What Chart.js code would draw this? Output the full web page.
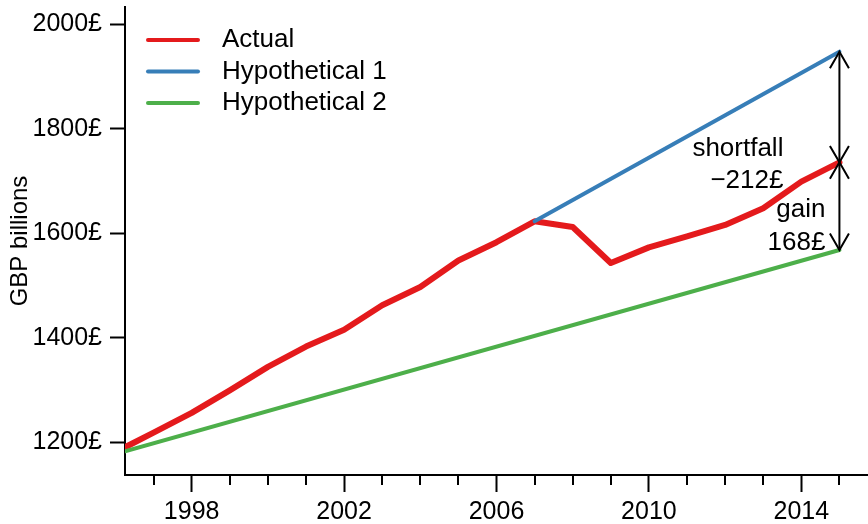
<!DOCTYPE html>
<html>
<head>
<meta charset="utf-8">
<script src="https://cdn.jsdelivr.net/npm/chart.js@4/dist/chart.umd.min.js"></script>
<style>
  html, body { margin: 0; padding: 0; background: #fff; }
</style>
</head>
<body>
<canvas id="gdpChart" width="868" height="524"></canvas>
<script>
// valores (GBP billions)
var years = [1996.25, 1997, 1998, 1999, 2000, 2001, 2002, 2003, 2004, 2005, 2006,
             2007, 2008, 2009, 2010, 2011, 2012, 2013, 2014, 2015];
var actual = [1190, 1218, 1256, 1299, 1344, 1383, 1415, 1462, 1497, 1548, 1583,
              1623, 1612, 1543, 1573, 1594, 1616, 1648, 1699, 1736];
var hyp1Years = [2007, 2015];
var hyp1 = [1623, 1948];
var hyp2Years = [1996.25, 2015];
var hyp2 = [1182, 1568];

var seriesNames = ['Actual', 'Hypothetical 1', 'Hypothetical 2'];
var seriesColors = ['#E41A1C', '#377EB8', '#4DAF4A'];

var xTicks = [1997, 1998, 1999, 2000, 2001, 2002, 2003, 2004, 2005, 2006,
              2007, 2008, 2009, 2010, 2011, 2012, 2013, 2014, 2015];
var xLabels = [1998, 2002, 2006, 2010, 2014];
var yTicks = [1200, 1400, 1600, 1800, 2000];

var family = "'Liberation Sans', Arial, Helvetica, sans-serif";
Chart.defaults.font.family = family;
Chart.defaults.color = '#000';

function toXY(xs, ys) {
    return xs.map(function (x, i) { return { x: x, y: ys[i] }; });
}

function money(v) {
    return (v < 0 ? '\u2212' : '') + Math.abs(v) + '\u00a3';
}

function arrowHead(ctx, x, y, dir) {
    var len = 19, ang = Math.PI / 6;
    ctx.beginPath();
    ctx.moveTo(x - len * Math.sin(ang), y - dir * len * Math.cos(ang));
    ctx.lineTo(x, y);
    ctx.lineTo(x + len * Math.sin(ang), y - dir * len * Math.cos(ang));
    ctx.stroke();
}

function doubleArrow(ctx, x, y1, y2) {
    ctx.beginPath();
    ctx.moveTo(x, y1);
    ctx.lineTo(x, y2);
    ctx.stroke();
    arrowHead(ctx, x, y1, -1);
    arrowHead(ctx, x, y2, 1);
}

var extras = {
    id: 'extras',
    afterDraw: function (chart) {
        var ctx = chart.ctx, area = chart.chartArea;
        var xs = chart.scales.x, ys = chart.scales.y;
        ctx.save();
        ctx.strokeStyle = '#000';
        ctx.lineWidth = 2;
        // ticks menores del eje x
        xTicks.forEach(function (v) {
            if (xLabels.indexOf(v) >= 0) return;
            var px = Math.round(xs.getPixelForValue(v));
            ctx.beginPath();
            ctx.moveTo(px, area.bottom);
            ctx.lineTo(px, area.bottom + 10);
            ctx.stroke();
        });

        // leyenda
        ctx.font = '26px ' + family;
        ctx.textAlign = 'left';
        ctx.textBaseline = 'middle';
        chart.data.datasets.forEach(function (ds, i) {
            var y = area.top + 33 + i * 31.5;
            ctx.strokeStyle = ds.borderColor;
            ctx.lineWidth = 4;
            ctx.lineCap = 'round';
            ctx.beginPath();
            ctx.moveTo(area.left + 23, y);
            ctx.lineTo(area.left + 73, y);
            ctx.stroke();
            ctx.fillStyle = '#000';
            ctx.fillText(ds.label, area.left + 97, y);
        });

        // flechas
        var last = years.length - 1;
        var ax = xs.getPixelForValue(years[last]);
        var yTop = ys.getPixelForValue(hyp1[hyp1.length - 1]);
        var yMid = ys.getPixelForValue(actual[last]);
        var yBot = ys.getPixelForValue(hyp2[hyp2.length - 1]);
        ctx.strokeStyle = '#000';
        ctx.lineWidth = 2;
        ctx.lineCap = 'butt';
        doubleArrow(ctx, ax, yTop, yMid);
        doubleArrow(ctx, ax, yMid, yBot);

        var shortfall = actual[last] - hyp1[hyp1.length - 1];
        var gain = actual[last] - hyp2[hyp2.length - 1];
        ctx.fillStyle = '#000';
        ctx.textAlign = 'right';
        ctx.textBaseline = 'alphabetic';
        ctx.fillText('shortfall', ax - 56, yMid - 6);
        ctx.fillText(money(shortfall), ax - 56, yMid + 26);
        ctx.fillText('gain', ax - 14, yMid + 55);
        ctx.fillText(money(gain), ax - 14, yBot);
        ctx.restore();
    }
};

var ctxChart = document.getElementById('gdpChart');

var config = {
    type: 'line',
    data: {
        datasets: [{
            label: seriesNames[0],
            data: toXY(years, actual),
            borderColor: seriesColors[0],
            borderWidth: 6,
            order: 2
        }, {
            label: seriesNames[1],
            data: toXY(hyp1Years, hyp1),
            borderColor: seriesColors[1],
            borderWidth: 4,
            order: 1
        }, {
            label: seriesNames[2],
            data: toXY(hyp2Years, hyp2),
            borderColor: seriesColors[2],
            borderWidth: 4,
            order: 0
        }]
    },
    options: {
        responsive: false,
        animation: false,
        devicePixelRatio: 1,
        elements: {
            point: { radius: 0 },
            line: { tension: 0, borderJoinStyle: 'round', borderCapStyle: 'round', fill: false }
        },
        layout: { padding: { top: 7, left: 0, right: 0, bottom: 0 } },
        plugins: {
            legend: { display: false },
            tooltip: { enabled: false }
        },
        scales: {
            x: {
                type: 'linear',
                min: 1996.25,
                max: 2015.75,
                afterBuildTicks: function (s) {
                    s.ticks = xTicks.map(function (v) { return { value: v }; });
                },
                afterFit: function (s) {
                    s.height = 49;
                    s.paddingLeft = 0;
                    s.paddingRight = 0;
                },
                grid: {
                    drawOnChartArea: false,
                    tickLength: 17,
                    tickWidth: 2,
                    tickColor: function (c) {
                        return c.tick && xLabels.indexOf(c.tick.value) >= 0 ? '#000' : 'rgba(0,0,0,0)';
                    }
                },
                border: { color: '#000', width: 2 },
                ticks: {
                    autoSkip: false,
                    maxRotation: 0,
                    padding: 5,
                    font: { size: 25 },
                    callback: function (v) {
                        return xLabels.indexOf(v) >= 0 ? String(v) : '';
                    }
                }
            },
            y: {
                type: 'linear',
                min: 1136.8,
                max: 2033.7,
                afterBuildTicks: function (s) {
                    s.ticks = yTicks.map(function (v) { return { value: v }; });
                },
                afterFit: function (s) {
                    s.width = 125;
                    s.paddingTop = 0;
                    s.paddingBottom = 0;
                },
                grid: {
                    drawOnChartArea: false,
                    tickLength: 15,
                    tickWidth: 2,
                    tickColor: '#000'
                },
                border: { color: '#000', width: 2 },
                title: {
                    display: true,
                    text: 'GBP billions',
                    font: { size: 24 },
                    padding: { top: 6, bottom: 0 }
                },
                ticks: {
                    padding: 8,
                    font: { size: 25 },
                    callback: function (v) { return v + '\u00a3'; }
                }
            }
        }
    },
    plugins: [extras]
};

window.myLine = new Chart(ctxChart, config);
</script>
</body>
</html>
